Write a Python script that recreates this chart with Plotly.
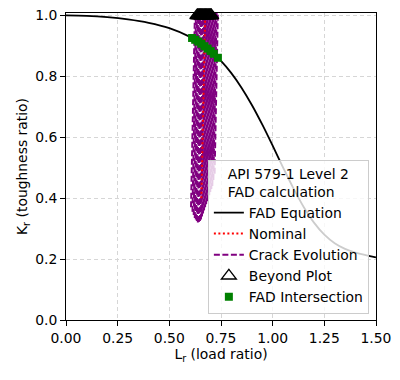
import plotly.graph_objects as go

# FAD curve (Lr, Kr)
fad_lr = [0.0, 0.1, 0.2, 0.3, 0.4, 0.5, 0.6, 0.65, 0.7, 0.75, 0.8, 0.85, 0.9, 0.95,
          1.0, 1.05, 1.1, 1.15, 1.2, 1.25, 1.3, 1.35, 1.4, 1.45, 1.5]
fad_kr = [1.0, 0.9986, 0.9944, 0.9871, 0.9758, 0.9582, 0.9297, 0.9093, 0.8834, 0.8508,
          0.8106, 0.7620, 0.7053, 0.6414, 0.5723, 0.5014, 0.4330, 0.3713, 0.3198, 0.2802,
          0.2522, 0.2336, 0.2215, 0.2129, 0.2058]

# Nominal path
nom_lr = [0.655, 0.675]
nom_kr = [0.40, 1.05]

# Crack evolution paths: start (Lr, Kr) and end (Lr, Kr) beyond plot
crack_lr0 = [0.605, 0.612, 0.618, 0.623, 0.628, 0.633, 0.638, 0.643, 0.648, 0.653, 0.658,
             0.663, 0.668, 0.673, 0.678, 0.683, 0.688, 0.693, 0.698, 0.703, 0.708, 0.713, 0.719]
crack_kr0 = [0.37, 0.355, 0.345, 0.335, 0.33, 0.325, 0.32, 0.322, 0.325, 0.33, 0.34,
             0.35, 0.36, 0.37, 0.38, 0.39, 0.40, 0.41, 0.42, 0.43, 0.44, 0.46, 0.48]
crack_lr1 = [0.625, 0.630, 0.635, 0.640, 0.645, 0.650, 0.655, 0.660, 0.665, 0.670, 0.675,
             0.680, 0.685, 0.690, 0.695, 0.700, 0.705, 0.710, 0.715, 0.720, 0.725, 0.730, 0.736]
crack_kr1 = [1.05] * 23

# Points beyond plot (drawn at top)
beyond_lr = [0.635, 0.639, 0.643, 0.647, 0.651, 0.655, 0.659, 0.663, 0.667, 0.671,
             0.675, 0.679, 0.683, 0.687, 0.691, 0.695, 0.699, 0.703]
beyond_kr = [1.0] * 18

# FAD intersection points
inter_lr = [0.61, 0.625, 0.64, 0.655, 0.67, 0.685, 0.70, 0.715, 0.735]
inter_kr = [0.926, 0.920, 0.914, 0.907, 0.899, 0.891, 0.883, 0.874, 0.861]

FONT = "DejaVu Sans"
FS = 13.9

fig = go.Figure()

fig.add_trace(go.Scatter(x=fad_lr, y=fad_kr, mode="lines", name="FAD Equation", legendrank=1,
                         line=dict(color="black", width=1.8, shape="spline")))

for i in range(len(crack_lr0)):
    fig.add_trace(go.Scatter(x=[crack_lr0[i], crack_lr1[i]], y=[crack_kr0[i], crack_kr1[i]],
                             mode="lines", name="Crack Evolution", legendgroup="crack",
                             showlegend=(i == 0), legendrank=3,
                             line=dict(color="purple", width=2, dash="6px,2.5px")))

fig.add_trace(go.Scatter(x=nom_lr, y=nom_kr, mode="lines", name="Nominal", legendrank=2,
                         line=dict(color="red", width=2, dash="2px,2.5px")))

fig.add_trace(go.Scatter(x=beyond_lr, y=beyond_kr, mode="markers", name="Beyond Plot",
                         cliponaxis=False, legendrank=4,
                         marker=dict(symbol="triangle-up", size=13, color="rgba(0,0,0,0)",
                                     line=dict(color="black", width=1.3))))

fig.add_trace(go.Scatter(x=inter_lr, y=inter_kr, mode="markers", name="FAD Intersection",
                         legendrank=5,
                         marker=dict(symbol="square", size=8, color="green",
                                     line=dict(width=0))))

axis_common = dict(showline=True, linecolor="black", linewidth=1, mirror=True,
                   ticks="outside", ticklen=5, tickcolor="black", automargin=False,
                   ticklabeloverflow="allow",
                   showgrid=True, gridcolor="#d6d6d6", griddash="4px,3px", gridwidth=1,
                   zeroline=False, tickfont=dict(family=FONT, size=FS, color="black"))

fig.update_xaxes(range=[0, 1.5], tickvals=[0, 0.25, 0.5, 0.75, 1.0, 1.25, 1.5],
                 tickformat=".2f",
                 title=dict(text="L<sub>r</sub> (load ratio)", font=dict(family=FONT, size=FS, color="black"),
                            standoff=4),
                 **axis_common)
fig.update_yaxes(range=[0, 1.008], tickvals=[0, 0.2, 0.4, 0.6, 0.8, 1.0],
                 tickformat=".1f",
                 title=dict(text="K<sub>r</sub> (toughness ratio)", font=dict(family=FONT, size=FS, color="black"),
                            standoff=4),
                 **axis_common)

# page body has an 8px default margin, so the figure is sized/offset to compensate
fig.update_layout(
    width=392, height=372,
    margin=dict(l=58, r=24, t=5, b=60, autoexpand=False),
    paper_bgcolor="white", plot_bgcolor="white",
    font=dict(family=FONT, size=FS, color="black"),
    legend=dict(
        title=dict(text="API 579-1 Level 2<br>FAD calculation", side="top center",
                   font=dict(family=FONT, size=FS)),
        x=0.977, y=0.02, xanchor="right", yanchor="bottom",
        bgcolor="rgba(255,255,255,0.8)", bordercolor="#cccccc", borderwidth=1,
        font=dict(family=FONT, size=FS), tracegroupgap=0,
    ),
    showlegend=True,
)

fig.write_html("out.html")
